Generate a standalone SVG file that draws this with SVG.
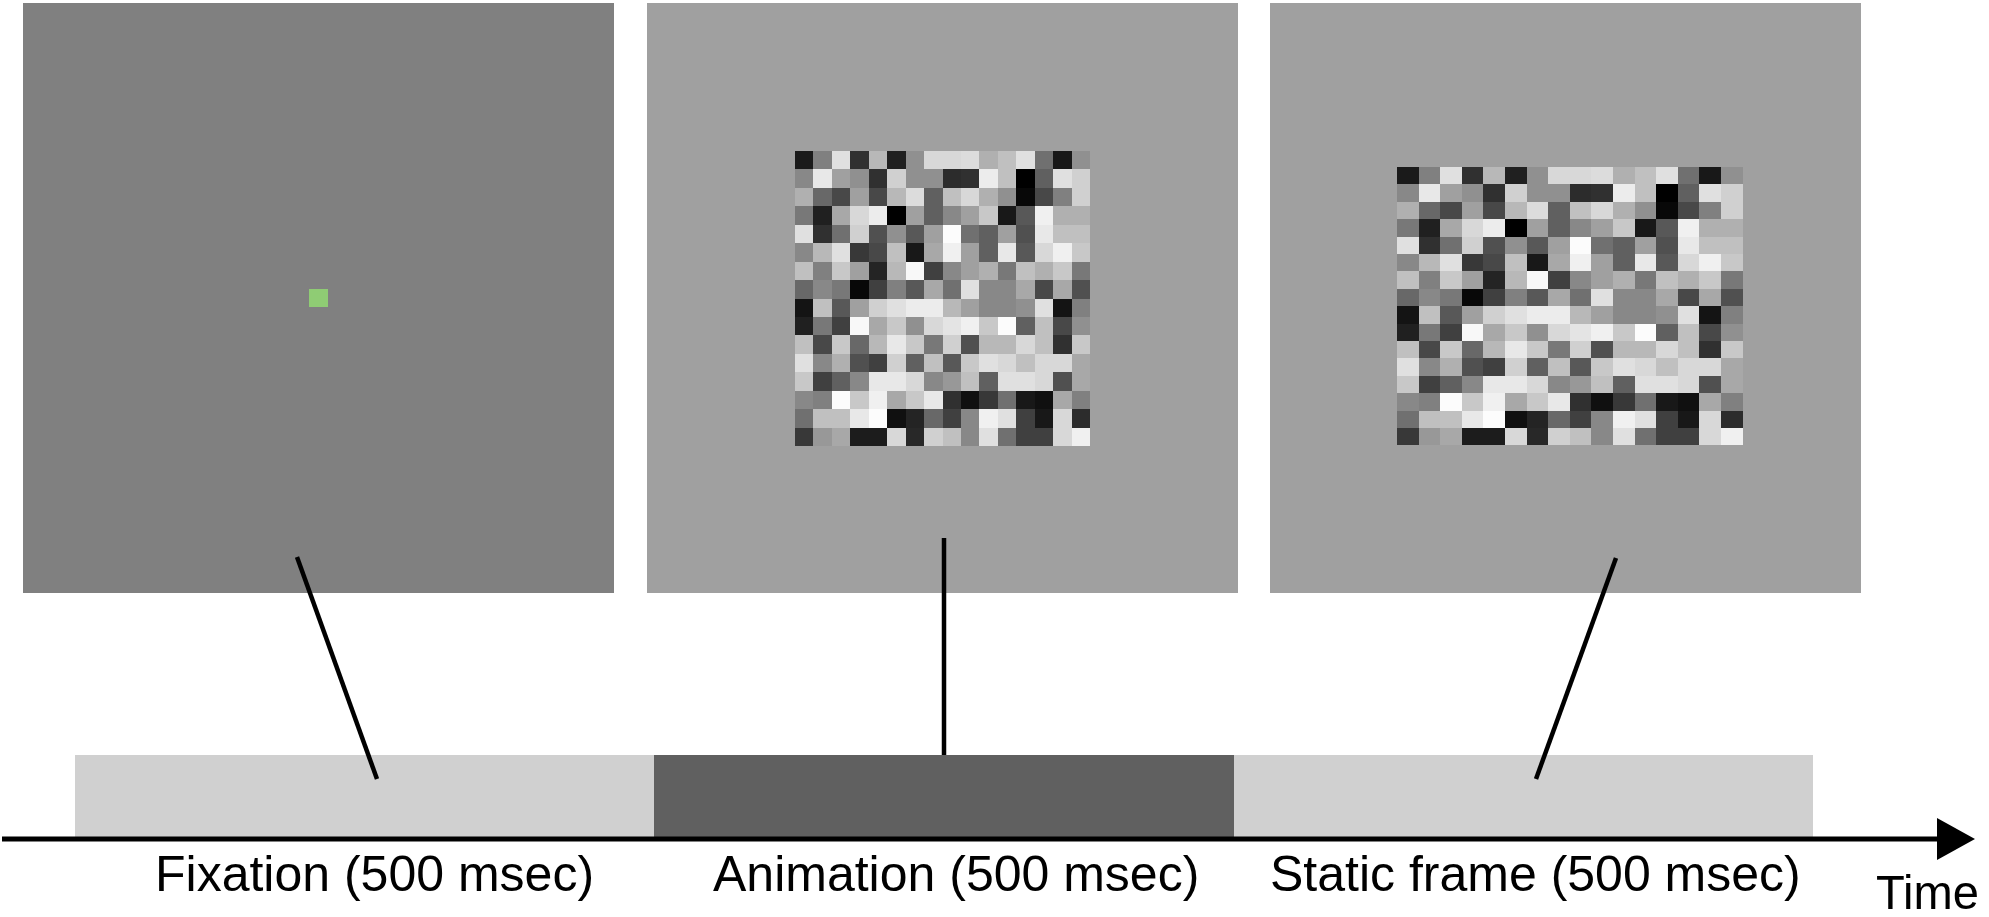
<svg xmlns="http://www.w3.org/2000/svg" xmlns:xlink="http://www.w3.org/1999/xlink" width="1989" height="917" viewBox="0 0 1989 917">
<style>
.lbl{font-family:"Liberation Sans",Arial,sans-serif;font-size:50px;fill:#000}
.conn{stroke:#000;stroke-width:4.5;fill:none}
.nz rect{shape-rendering:crispEdges}
</style>
<defs>
<g id="noise" class="nz">
<g transform="translate(0,0)"><rect x="0" y="0" width="1" height="1" fill="#1a1a1a"/><rect x="1" y="0" width="1" height="1" fill="#808080"/><rect x="2" y="0" width="1" height="1" fill="#e0e0e0"/><rect x="3" y="0" width="1" height="1" fill="#303030"/><rect x="4" y="0" width="1" height="1" fill="#b8b8b8"/><rect x="5" y="0" width="1" height="1" fill="#202020"/><rect x="6" y="0" width="1" height="1" fill="#909090"/><rect x="7" y="0" width="1" height="1" fill="#d8d8d8"/><rect x="8" y="0" width="1" height="1" fill="#d8d8d8"/><rect x="9" y="0" width="1" height="1" fill="#dcdcdc"/><rect x="10" y="0" width="1" height="1" fill="#b0b0b0"/><rect x="11" y="0" width="1" height="1" fill="#c0c0c0"/><rect x="12" y="0" width="1" height="1" fill="#e0e0e0"/><rect x="13" y="0" width="1" height="1" fill="#707070"/><rect x="14" y="0" width="1" height="1" fill="#181818"/><rect x="15" y="0" width="1" height="1" fill="#909090"/></g>
<g transform="translate(0,1)"><rect x="0" y="0" width="1" height="1" fill="#888888"/><rect x="1" y="0" width="1" height="1" fill="#e8e8e8"/><rect x="2" y="0" width="1" height="1" fill="#a0a0a0"/><rect x="3" y="0" width="1" height="1" fill="#909090"/><rect x="4" y="0" width="1" height="1" fill="#303030"/><rect x="5" y="0" width="1" height="1" fill="#d0d0d0"/><rect x="6" y="0" width="1" height="1" fill="#909090"/><rect x="7" y="0" width="1" height="1" fill="#909090"/><rect x="8" y="0" width="1" height="1" fill="#2c2c2c"/><rect x="9" y="0" width="1" height="1" fill="#303030"/><rect x="10" y="0" width="1" height="1" fill="#ececec"/><rect x="11" y="0" width="1" height="1" fill="#c0c0c0"/><rect x="12" y="0" width="1" height="1" fill="#000000"/><rect x="13" y="0" width="1" height="1" fill="#606060"/><rect x="14" y="0" width="1" height="1" fill="#e0e0e0"/><rect x="15" y="0" width="1" height="1" fill="#d0d0d0"/></g>
<g transform="translate(0,2)"><rect x="0" y="0" width="1" height="1" fill="#b0b0b0"/><rect x="1" y="0" width="1" height="1" fill="#686868"/><rect x="2" y="0" width="1" height="1" fill="#484848"/><rect x="3" y="0" width="1" height="1" fill="#a0a0a0"/><rect x="4" y="0" width="1" height="1" fill="#484848"/><rect x="5" y="0" width="1" height="1" fill="#b8b8b8"/><rect x="6" y="0" width="1" height="1" fill="#dcdcdc"/><rect x="7" y="0" width="1" height="1" fill="#606060"/><rect x="8" y="0" width="1" height="1" fill="#c0c0c0"/><rect x="9" y="0" width="1" height="1" fill="#d8d8d8"/><rect x="10" y="0" width="1" height="1" fill="#b0b0b0"/><rect x="11" y="0" width="1" height="1" fill="#909090"/><rect x="12" y="0" width="1" height="1" fill="#080808"/><rect x="13" y="0" width="1" height="1" fill="#484848"/><rect x="14" y="0" width="1" height="1" fill="#808080"/><rect x="15" y="0" width="1" height="1" fill="#d0d0d0"/></g>
<g transform="translate(0,3)"><rect x="0" y="0" width="1" height="1" fill="#787878"/><rect x="1" y="0" width="1" height="1" fill="#202020"/><rect x="2" y="0" width="1" height="1" fill="#a8a8a8"/><rect x="3" y="0" width="1" height="1" fill="#d8d8d8"/><rect x="4" y="0" width="1" height="1" fill="#ececec"/><rect x="5" y="0" width="1" height="1" fill="#000000"/><rect x="6" y="0" width="1" height="1" fill="#a0a0a0"/><rect x="7" y="0" width="1" height="1" fill="#606060"/><rect x="8" y="0" width="1" height="1" fill="#888888"/><rect x="9" y="0" width="1" height="1" fill="#a0a0a0"/><rect x="10" y="0" width="1" height="1" fill="#c8c8c8"/><rect x="11" y="0" width="1" height="1" fill="#181818"/><rect x="12" y="0" width="1" height="1" fill="#585858"/><rect x="13" y="0" width="1" height="1" fill="#f0f0f0"/><rect x="14" y="0" width="1" height="1" fill="#b0b0b0"/><rect x="15" y="0" width="1" height="1" fill="#b0b0b0"/></g>
<g transform="translate(0,4)"><rect x="0" y="0" width="1" height="1" fill="#e0e0e0"/><rect x="1" y="0" width="1" height="1" fill="#303030"/><rect x="2" y="0" width="1" height="1" fill="#707070"/><rect x="3" y="0" width="1" height="1" fill="#d0d0d0"/><rect x="4" y="0" width="1" height="1" fill="#505050"/><rect x="5" y="0" width="1" height="1" fill="#909090"/><rect x="6" y="0" width="1" height="1" fill="#585858"/><rect x="7" y="0" width="1" height="1" fill="#a0a0a0"/><rect x="8" y="0" width="1" height="1" fill="#fcfcfc"/><rect x="9" y="0" width="1" height="1" fill="#707070"/><rect x="10" y="0" width="1" height="1" fill="#606060"/><rect x="11" y="0" width="1" height="1" fill="#a0a0a0"/><rect x="12" y="0" width="1" height="1" fill="#505050"/><rect x="13" y="0" width="1" height="1" fill="#e8e8e8"/><rect x="14" y="0" width="1" height="1" fill="#c0c0c0"/><rect x="15" y="0" width="1" height="1" fill="#c0c0c0"/></g>
<g transform="translate(0,5)"><rect x="0" y="0" width="1" height="1" fill="#888888"/><rect x="1" y="0" width="1" height="1" fill="#b8b8b8"/><rect x="2" y="0" width="1" height="1" fill="#e0e0e0"/><rect x="3" y="0" width="1" height="1" fill="#383838"/><rect x="4" y="0" width="1" height="1" fill="#484848"/><rect x="5" y="0" width="1" height="1" fill="#c0c0c0"/><rect x="6" y="0" width="1" height="1" fill="#181818"/><rect x="7" y="0" width="1" height="1" fill="#a8a8a8"/><rect x="8" y="0" width="1" height="1" fill="#f0f0f0"/><rect x="9" y="0" width="1" height="1" fill="#a0a0a0"/><rect x="10" y="0" width="1" height="1" fill="#606060"/><rect x="11" y="0" width="1" height="1" fill="#e8e8e8"/><rect x="12" y="0" width="1" height="1" fill="#585858"/><rect x="13" y="0" width="1" height="1" fill="#d8d8d8"/><rect x="14" y="0" width="1" height="1" fill="#f0f0f0"/><rect x="15" y="0" width="1" height="1" fill="#c8c8c8"/></g>
<g transform="translate(0,6)"><rect x="0" y="0" width="1" height="1" fill="#c0c0c0"/><rect x="1" y="0" width="1" height="1" fill="#808080"/><rect x="2" y="0" width="1" height="1" fill="#c8c8c8"/><rect x="3" y="0" width="1" height="1" fill="#a0a0a0"/><rect x="4" y="0" width="1" height="1" fill="#242424"/><rect x="5" y="0" width="1" height="1" fill="#b8b8b8"/><rect x="6" y="0" width="1" height="1" fill="#f8f8f8"/><rect x="7" y="0" width="1" height="1" fill="#404040"/><rect x="8" y="0" width="1" height="1" fill="#888888"/><rect x="9" y="0" width="1" height="1" fill="#a0a0a0"/><rect x="10" y="0" width="1" height="1" fill="#b0b0b0"/><rect x="11" y="0" width="1" height="1" fill="#787878"/><rect x="12" y="0" width="1" height="1" fill="#c0c0c0"/><rect x="13" y="0" width="1" height="1" fill="#b0b0b0"/><rect x="14" y="0" width="1" height="1" fill="#c8c8c8"/><rect x="15" y="0" width="1" height="1" fill="#787878"/></g>
<g transform="translate(0,7)"><rect x="0" y="0" width="1" height="1" fill="#686868"/><rect x="1" y="0" width="1" height="1" fill="#888888"/><rect x="2" y="0" width="1" height="1" fill="#787878"/><rect x="3" y="0" width="1" height="1" fill="#080808"/><rect x="4" y="0" width="1" height="1" fill="#404040"/><rect x="5" y="0" width="1" height="1" fill="#808080"/><rect x="6" y="0" width="1" height="1" fill="#585858"/><rect x="7" y="0" width="1" height="1" fill="#a8a8a8"/><rect x="8" y="0" width="1" height="1" fill="#707070"/><rect x="9" y="0" width="1" height="1" fill="#e0e0e0"/><rect x="10" y="0" width="1" height="1" fill="#888888"/><rect x="11" y="0" width="1" height="1" fill="#888888"/><rect x="12" y="0" width="1" height="1" fill="#a8a8a8"/><rect x="13" y="0" width="1" height="1" fill="#484848"/><rect x="14" y="0" width="1" height="1" fill="#a8a8a8"/><rect x="15" y="0" width="1" height="1" fill="#505050"/></g>
<g transform="translate(0,8)"><rect x="0" y="0" width="1" height="1" fill="#141414"/><rect x="1" y="0" width="1" height="1" fill="#c0c0c0"/><rect x="2" y="0" width="1" height="1" fill="#585858"/><rect x="3" y="0" width="1" height="1" fill="#a0a0a0"/><rect x="4" y="0" width="1" height="1" fill="#d0d0d0"/><rect x="5" y="0" width="1" height="1" fill="#e0e0e0"/><rect x="6" y="0" width="1" height="1" fill="#ececec"/><rect x="7" y="0" width="1" height="1" fill="#ececec"/><rect x="8" y="0" width="1" height="1" fill="#b8b8b8"/><rect x="9" y="0" width="1" height="1" fill="#a0a0a0"/><rect x="10" y="0" width="1" height="1" fill="#888888"/><rect x="11" y="0" width="1" height="1" fill="#888888"/><rect x="12" y="0" width="1" height="1" fill="#909090"/><rect x="13" y="0" width="1" height="1" fill="#e0e0e0"/><rect x="14" y="0" width="1" height="1" fill="#141414"/><rect x="15" y="0" width="1" height="1" fill="#808080"/></g>
<g transform="translate(0,9)"><rect x="0" y="0" width="1" height="1" fill="#202020"/><rect x="1" y="0" width="1" height="1" fill="#787878"/><rect x="2" y="0" width="1" height="1" fill="#404040"/><rect x="3" y="0" width="1" height="1" fill="#f8f8f8"/><rect x="4" y="0" width="1" height="1" fill="#a8a8a8"/><rect x="5" y="0" width="1" height="1" fill="#c8c8c8"/><rect x="6" y="0" width="1" height="1" fill="#909090"/><rect x="7" y="0" width="1" height="1" fill="#d8d8d8"/><rect x="8" y="0" width="1" height="1" fill="#e4e4e4"/><rect x="9" y="0" width="1" height="1" fill="#f0f0f0"/><rect x="10" y="0" width="1" height="1" fill="#c8c8c8"/><rect x="11" y="0" width="1" height="1" fill="#fcfcfc"/><rect x="12" y="0" width="1" height="1" fill="#606060"/><rect x="13" y="0" width="1" height="1" fill="#c0c0c0"/><rect x="14" y="0" width="1" height="1" fill="#484848"/><rect x="15" y="0" width="1" height="1" fill="#909090"/></g>
<g transform="translate(0,10)"><rect x="0" y="0" width="1" height="1" fill="#c0c0c0"/><rect x="1" y="0" width="1" height="1" fill="#484848"/><rect x="2" y="0" width="1" height="1" fill="#c8c8c8"/><rect x="3" y="0" width="1" height="1" fill="#686868"/><rect x="4" y="0" width="1" height="1" fill="#b8b8b8"/><rect x="5" y="0" width="1" height="1" fill="#e8e8e8"/><rect x="6" y="0" width="1" height="1" fill="#c8c8c8"/><rect x="7" y="0" width="1" height="1" fill="#787878"/><rect x="8" y="0" width="1" height="1" fill="#d0d0d0"/><rect x="9" y="0" width="1" height="1" fill="#505050"/><rect x="10" y="0" width="1" height="1" fill="#b8b8b8"/><rect x="11" y="0" width="1" height="1" fill="#b8b8b8"/><rect x="12" y="0" width="1" height="1" fill="#d8d8d8"/><rect x="13" y="0" width="1" height="1" fill="#c0c0c0"/><rect x="14" y="0" width="1" height="1" fill="#303030"/><rect x="15" y="0" width="1" height="1" fill="#c8c8c8"/></g>
<g transform="translate(0,11)"><rect x="0" y="0" width="1" height="1" fill="#e0e0e0"/><rect x="1" y="0" width="1" height="1" fill="#888888"/><rect x="2" y="0" width="1" height="1" fill="#b0b0b0"/><rect x="3" y="0" width="1" height="1" fill="#505050"/><rect x="4" y="0" width="1" height="1" fill="#404040"/><rect x="5" y="0" width="1" height="1" fill="#d0d0d0"/><rect x="6" y="0" width="1" height="1" fill="#606060"/><rect x="7" y="0" width="1" height="1" fill="#c0c0c0"/><rect x="8" y="0" width="1" height="1" fill="#585858"/><rect x="9" y="0" width="1" height="1" fill="#c8c8c8"/><rect x="10" y="0" width="1" height="1" fill="#e0e0e0"/><rect x="11" y="0" width="1" height="1" fill="#d8d8d8"/><rect x="12" y="0" width="1" height="1" fill="#c0c0c0"/><rect x="13" y="0" width="1" height="1" fill="#d8d8d8"/><rect x="14" y="0" width="1" height="1" fill="#d8d8d8"/><rect x="15" y="0" width="1" height="1" fill="#a8a8a8"/></g>
<g transform="translate(0,12)"><rect x="0" y="0" width="1" height="1" fill="#c8c8c8"/><rect x="1" y="0" width="1" height="1" fill="#404040"/><rect x="2" y="0" width="1" height="1" fill="#606060"/><rect x="3" y="0" width="1" height="1" fill="#888888"/><rect x="4" y="0" width="1" height="1" fill="#e8e8e8"/><rect x="5" y="0" width="1" height="1" fill="#e8e8e8"/><rect x="6" y="0" width="1" height="1" fill="#d8d8d8"/><rect x="7" y="0" width="1" height="1" fill="#888888"/><rect x="8" y="0" width="1" height="1" fill="#989898"/><rect x="9" y="0" width="1" height="1" fill="#c0c0c0"/><rect x="10" y="0" width="1" height="1" fill="#606060"/><rect x="11" y="0" width="1" height="1" fill="#e0e0e0"/><rect x="12" y="0" width="1" height="1" fill="#e0e0e0"/><rect x="13" y="0" width="1" height="1" fill="#d8d8d8"/><rect x="14" y="0" width="1" height="1" fill="#505050"/><rect x="15" y="0" width="1" height="1" fill="#a8a8a8"/></g>
<g transform="translate(0,13)"><rect x="0" y="0" width="1" height="1" fill="#888888"/><rect x="1" y="0" width="1" height="1" fill="#808080"/><rect x="2" y="0" width="1" height="1" fill="#fcfcfc"/><rect x="3" y="0" width="1" height="1" fill="#c8c8c8"/><rect x="4" y="0" width="1" height="1" fill="#f0f0f0"/><rect x="5" y="0" width="1" height="1" fill="#a8a8a8"/><rect x="6" y="0" width="1" height="1" fill="#c8c8c8"/><rect x="7" y="0" width="1" height="1" fill="#e8e8e8"/><rect x="8" y="0" width="1" height="1" fill="#303030"/><rect x="9" y="0" width="1" height="1" fill="#101010"/><rect x="10" y="0" width="1" height="1" fill="#383838"/><rect x="11" y="0" width="1" height="1" fill="#707070"/><rect x="12" y="0" width="1" height="1" fill="#181818"/><rect x="13" y="0" width="1" height="1" fill="#101010"/><rect x="14" y="0" width="1" height="1" fill="#a8a8a8"/><rect x="15" y="0" width="1" height="1" fill="#808080"/></g>
<g transform="translate(0,14)"><rect x="0" y="0" width="1" height="1" fill="#707070"/><rect x="1" y="0" width="1" height="1" fill="#c0c0c0"/><rect x="2" y="0" width="1" height="1" fill="#c0c0c0"/><rect x="3" y="0" width="1" height="1" fill="#e8e8e8"/><rect x="4" y="0" width="1" height="1" fill="#fcfcfc"/><rect x="5" y="0" width="1" height="1" fill="#101010"/><rect x="6" y="0" width="1" height="1" fill="#242424"/><rect x="7" y="0" width="1" height="1" fill="#686868"/><rect x="8" y="0" width="1" height="1" fill="#404040"/><rect x="9" y="0" width="1" height="1" fill="#888888"/><rect x="10" y="0" width="1" height="1" fill="#f0f0f0"/><rect x="11" y="0" width="1" height="1" fill="#e0e0e0"/><rect x="12" y="0" width="1" height="1" fill="#404040"/><rect x="13" y="0" width="1" height="1" fill="#181818"/><rect x="14" y="0" width="1" height="1" fill="#d8d8d8"/><rect x="15" y="0" width="1" height="1" fill="#2c2c2c"/></g>
<g transform="translate(0,15)"><rect x="0" y="0" width="1" height="1" fill="#383838"/><rect x="1" y="0" width="1" height="1" fill="#989898"/><rect x="2" y="0" width="1" height="1" fill="#a8a8a8"/><rect x="3" y="0" width="1" height="1" fill="#1c1c1c"/><rect x="4" y="0" width="1" height="1" fill="#1c1c1c"/><rect x="5" y="0" width="1" height="1" fill="#d8d8d8"/><rect x="6" y="0" width="1" height="1" fill="#282828"/><rect x="7" y="0" width="1" height="1" fill="#d0d0d0"/><rect x="8" y="0" width="1" height="1" fill="#c0c0c0"/><rect x="9" y="0" width="1" height="1" fill="#888888"/><rect x="10" y="0" width="1" height="1" fill="#e0e0e0"/><rect x="11" y="0" width="1" height="1" fill="#707070"/><rect x="12" y="0" width="1" height="1" fill="#404040"/><rect x="13" y="0" width="1" height="1" fill="#404040"/><rect x="14" y="0" width="1" height="1" fill="#d8d8d8"/><rect x="15" y="0" width="1" height="1" fill="#f0f0f0"/></g>
</g>
</defs>
<rect width="1989" height="917" fill="#ffffff"/>
<g id="panel-fixation">
<rect x="23" y="3" width="591" height="590" fill="#808080"/>
<rect x="309" y="289" width="19" height="18" fill="#8fcc74"/>
</g>
<g id="panel-animation">
<rect x="647" y="3" width="591" height="590" fill="#a0a0a0"/>
<use xlink:href="#noise" transform="translate(795,151) scale(18.44,18.44)"/>
</g>
<g id="panel-static">
<rect x="1270" y="3" width="591" height="590" fill="#a0a0a0"/>
<use xlink:href="#noise" transform="translate(1397,167) scale(21.6,17.4)"/>
</g>
<g id="bar-fixation"><rect x="75" y="755" width="579" height="82" fill="#d0d0d0"/></g>
<g id="bar-animation"><rect x="654" y="755" width="580" height="82" fill="#606060"/></g>
<g id="bar-static"><rect x="1234" y="755" width="579" height="82" fill="#d0d0d0"/></g>
<g id="connectors">
<line class="conn" x1="297" y1="557" x2="377" y2="779"/>
<line class="conn" x1="944" y1="538" x2="944" y2="755"/>
<line class="conn" x1="1616" y1="558" x2="1536" y2="779"/>
</g>
<g id="time-axis">
<line x1="2" y1="839" x2="1940" y2="839" stroke="#000" stroke-width="5"/>
<polygon points="1937,818 1975,839 1937,860" fill="#000"/>
</g>
<g id="labels">
<text class="lbl" x="155" y="891">Fixation (500 msec)</text>
<text class="lbl" x="713" y="891">Animation (500 msec)</text>
<text class="lbl" x="1270" y="891">Static frame (500 msec)</text>
<text class="lbl" x="1876" y="909" style="font-size:49px" textLength="103" lengthAdjust="spacingAndGlyphs">Time</text>
</g>
</svg>
